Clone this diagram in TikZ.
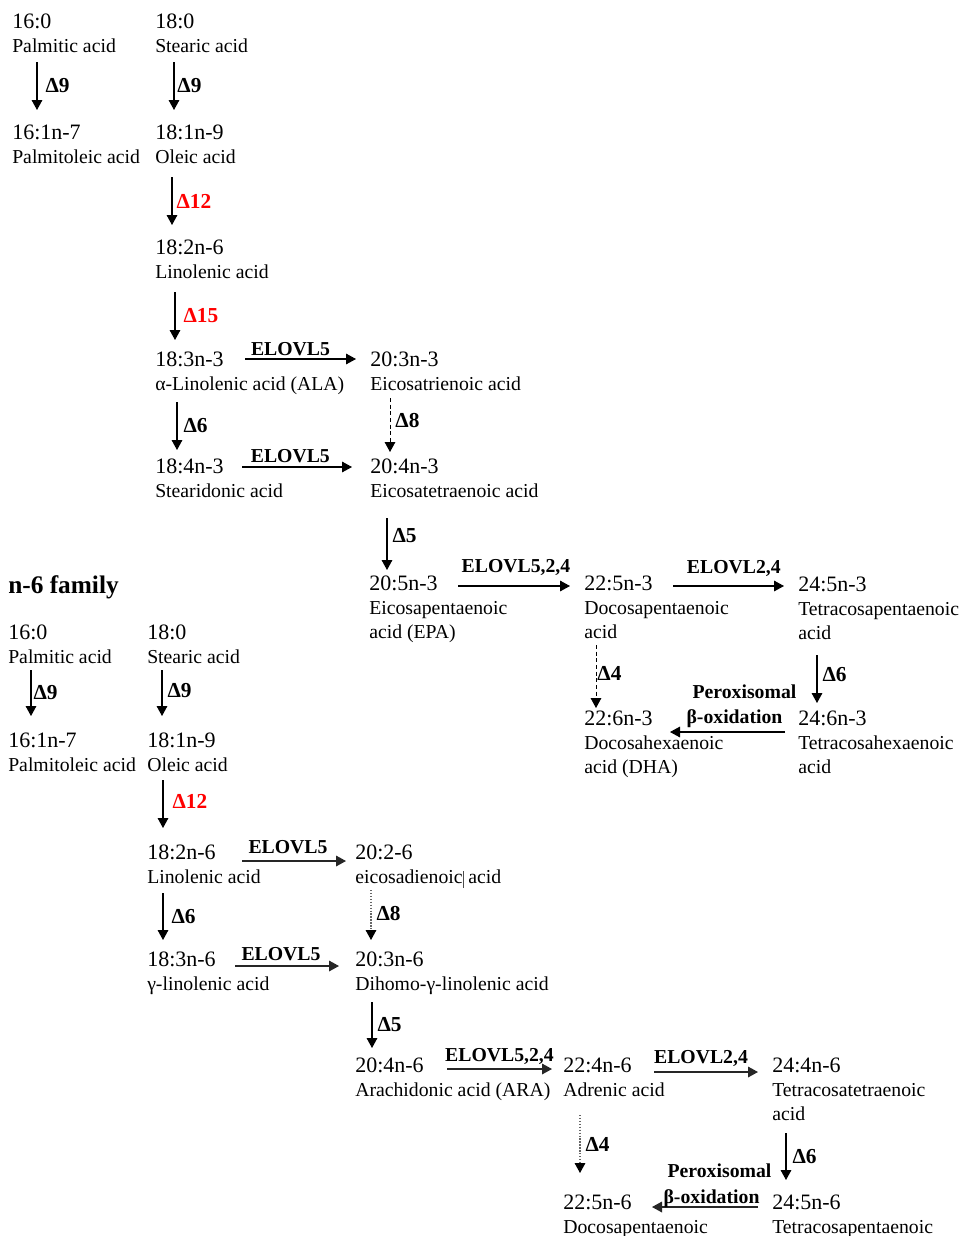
\documentclass[tikz,border=0pt]{standalone}
\usepackage{fontspec}
\setmainfont{Liberation Serif}
\usetikzlibrary{arrows.meta}
\newcommand\fmf{\fontsize{16.5}{18}\selectfont}
\newcommand\nmf{\fontsize{14.8}{18}\selectfont}
\begin{document}
\begin{tikzpicture}[x=0.75pt,y=-0.75pt,
  cpd/.style={anchor=north west, inner sep=0pt, align=left, font=\nmf},
  arr/.style={-{Triangle[length=7.5pt,width=8pt]}, line width=0.8pt},
  dsh/.style={arr, dash pattern=on 3pt off 2pt, line width=0.6pt},
  dtt/.style={-{Triangle[length=7.5pt,width=8pt,color=black]}, dash pattern=on 1pt off 1.2pt, draw=black!60, line width=0.8pt},
  arrb/.style={arr, line width=0.9pt, draw=black!85},
  dl/.style={font=\fontsize{16}{18}\selectfont\bfseries, inner sep=0pt, anchor=west},
  rl/.style={dl, text=red},
  el/.style={font=\fontsize{14.8}{18}\selectfont\bfseries, inner sep=0pt, anchor=base},
  tl/.style={font=\fontsize{19}{22}\selectfont\bfseries, inner sep=0pt, anchor=base west}
]
\useasboundingbox (0,0) rectangle (965,1236);

% ---------------- n-3 family ----------------
\node[cpd] (a1) at (12,14) {{\fmf 16:0}\\Palmitic acid};
\node[cpd] (a2) at (155,14) {{\fmf 18:0}\\Stearic acid};
\node[cpd] (a3) at (12,125) {{\fmf 16:1n-7}\\Palmitoleic acid};
\node[cpd] (a4) at (155,125) {{\fmf 18:1n-9}\\Oleic acid};
\node[cpd] (a5) at (155,240) {{\fmf 18:2n-6}\\Linolenic acid};
\node[cpd] (a6) at (155,352) {{\fmf 18:3n-3}\\α-Linolenic acid (ALA)};
\node[cpd] (a7) at (370,352) {{\fmf 20:3n-3}\\Eicosatrienoic acid};
\node[cpd] (a8) at (155,459) {{\fmf 18:4n-3}\\Stearidonic acid};
\node[cpd] (a9) at (370,459) {{\fmf 20:4n-3}\\Eicosatetraenoic acid};
\node[cpd] (a10) at (369,576) {{\fmf 20:5n-3}\\Eicosapentaenoic\\acid (EPA)};
\node[cpd] (a11) at (584,576) {{\fmf 22:5n-3}\\Docosapentaenoic\\acid};
\node[cpd] (a12) at (798,577) {{\fmf 24:5n-3}\\Tetracosapentaenoic\\acid};
\node[cpd] (a13) at (584,711) {{\fmf 22:6n-3}\\Docosahexaenoic\\acid (DHA)};
\node[cpd] (a14) at (798,711) {{\fmf 24:6n-3}\\Tetracosahexaenoic\\acid};

\draw[arr] ([shift={(25,48)}]a1.north west) -- node[dl,right=6pt]{Δ9} ([shift={(25,-15)}]a3.north west);
\draw[arr] ([shift={(19,48)}]a2.north west) -- node[dl,right=2.2pt]{Δ9} ([shift={(19,-15)}]a4.north west);
\draw[arr] ([shift={(17,52)}]a4.north west) -- node[rl,right=3pt]{Δ12} ([shift={(17,-15)}]a5.north west);
\draw[arr] ([shift={(20,52)}]a5.north west) -- node[rl,right=6pt]{Δ15} ([shift={(20,-12)}]a6.north west);
\draw[arr] ([shift={(90,7)}]a6.north west) -- node[el,midway,xshift=-7.5pt,yshift=3pt]{ELOVL5} ([shift={(-14,7)}]a7.north west);
\draw[arr] ([shift={(22,50)}]a6.north west) -- node[dl,right=4.5pt]{Δ6} ([shift={(22,-9)}]a8.north west);
\draw[dsh] ([shift={(20,46)}]a7.north west) -- node[dl,right=3.75pt,yshift=3pt]{Δ8} ([shift={(20,-7)}]a9.north west);
\draw[arr] ([shift={(87,8)}]a8.north west) -- node[el,midway,xshift=-5pt,yshift=3.75pt]{ELOVL5} ([shift={(-18,8)}]a9.north west);
\draw[arr] ([shift={(17,59)}]a9.north west) -- node[dl,right=3.75pt,yshift=6pt]{Δ5} ([shift={(18,-6)}]a10.north west);
\draw[arr] ([shift={(89,10)}]a10.north west) -- node[el,midway,xshift=1.5pt,yshift=10.5pt]{ELOVL5,2,4} ([shift={(-14,10)}]a11.north west);
\draw[arr] ([shift={(89,10)}]a11.north west) -- node[el,midway,xshift=4pt,yshift=9.75pt]{ELOVL2,4} ([shift={(-14,9)}]a12.north west);
\draw[dsh] ([shift={(12,69)}]a11.north west) -- node[dl,right=0.75pt,yshift=2pt]{Δ4} ([shift={(12,-3)}]a13.north west);
\draw[arr] ([shift={(19,78)}]a12.north west) -- node[dl,right=3.75pt,yshift=3pt]{Δ6} ([shift={(19,-8)}]a14.north west);
\draw[arr] ([shift={(-13,21)}]a14.north west) --
  node[el,midway,xshift=12.75pt,yshift=25.5pt]{Peroxisomal}
  node[el,midway,xshift=5.25pt,yshift=6.75pt]{β-oxidation}
  ([shift={(86,21)}]a13.north west);

% ---------------- n-6 family ----------------
\node[tl] (title) at (8,593) {n-6 family};
\node[cpd] (b1) at (8,625) {{\fmf 16:0}\\Palmitic acid};
\node[cpd] (b2) at (147,625) {{\fmf 18:0}\\Stearic acid};
\node[cpd] (b3) at (8,733) {{\fmf 16:1n-7}\\Palmitoleic acid};
\node[cpd] (b4) at (147,733) {{\fmf 18:1n-9}\\Oleic acid};
\node[cpd] (b5) at (147,845) {{\fmf 18:2n-6}\\Linolenic acid};
\node[cpd] (b6) at (355,845) {{\fmf 20:2-6}\\eicosadienoic{\color{black!70}\rule[-3pt]{0.6pt}{12.75pt}} acid};
\node[cpd] (b7) at (147,952) {{\fmf 18:3n-6}\\γ-linolenic acid};
\node[cpd] (b8) at (355,952) {{\fmf 20:3n-6}\\Dihomo-γ-linolenic acid};
\node[cpd] (b9) at (355,1058) {{\fmf 20:4n-6}\\Arachidonic acid (ARA)};
\node[cpd] (b10) at (563,1058) {{\fmf 22:4n-6}\\Adrenic acid};
\node[cpd] (b11) at (772,1058) {{\fmf 24:4n-6}\\Tetracosatetraenoic\\acid};
\node[cpd] (b12) at (563,1195) {{\fmf 22:5n-6}\\Docosapentaenoic};
\node[cpd] (b13) at (772,1195) {{\fmf 24:5n-6}\\Tetracosapentaenoic};

\draw[arr] ([shift={(23,45)}]b1.north west) -- node[dl,right=1.5pt]{Δ9} ([shift={(23,-17)}]b3.north west);
\draw[arr] ([shift={(15,45)}]b2.north west) -- node[dl,right=3.75pt,yshift=2pt]{Δ9} ([shift={(15,-17)}]b4.north west);
\draw[arr] ([shift={(16,47)}]b4.north west) -- node[rl,right=6.75pt,yshift=2pt]{Δ12} ([shift={(16,-17)}]b5.north west);
\draw[arrb] ([shift={(95,16)}]b5.north west) -- node[el,midway,xshift=-4.5pt,yshift=6pt]{ELOVL5} ([shift={(-9,16)}]b6.north west);
\draw[arr] ([shift={(16,48)}]b5.north west) -- node[dl,right=6pt]{Δ6} ([shift={(16,-12)}]b7.north west);
\draw[dtt] ([shift={(16,45)}]b6.north west) -- node[dl,right=3.75pt,yshift=1.5pt]{Δ8} ([shift={(16,-12)}]b8.north west);
\draw[arrb] ([shift={(88,14)}]b7.north west) -- node[el,midway,xshift=-4.5pt,yshift=4.5pt]{ELOVL5} ([shift={(-16,14)}]b8.north west);
\draw[arr] ([shift={(17,50)}]b8.north west) -- node[dl,right=3.75pt]{Δ5} ([shift={(17,-10)}]b9.north west);
\draw[arrb] ([shift={(92,11)}]b9.north west) -- node[el,midway,yshift=6pt]{ELOVL5,2,4} ([shift={(-11,11)}]b10.north west);
\draw[arrb] ([shift={(91,14)}]b10.north west) -- node[el,midway,xshift=-3.75pt,yshift=6.75pt]{ELOVL2,4} ([shift={(-14,14)}]b11.north west);
\draw[dtt] ([shift={(17,57)}]b10.north west) -- node[dl,right=3.75pt]{Δ4} ([shift={(17,-22)}]b12.north west);
\draw[arr] ([shift={(14,75)}]b11.north west) -- node[dl,right=4.5pt]{Δ6} ([shift={(14,-15)}]b13.north west);
\draw[arrb] ([shift={(-14,12)}]b13.north west) --
  node[el,midway,xshift=10.9pt,yshift=22.5pt]{Peroxisomal}
  node[el,midway,xshift=4.9pt,yshift=3pt]{β-oxidation}
  ([shift={(89,12)}]b12.north west);
\end{tikzpicture}
\end{document}
